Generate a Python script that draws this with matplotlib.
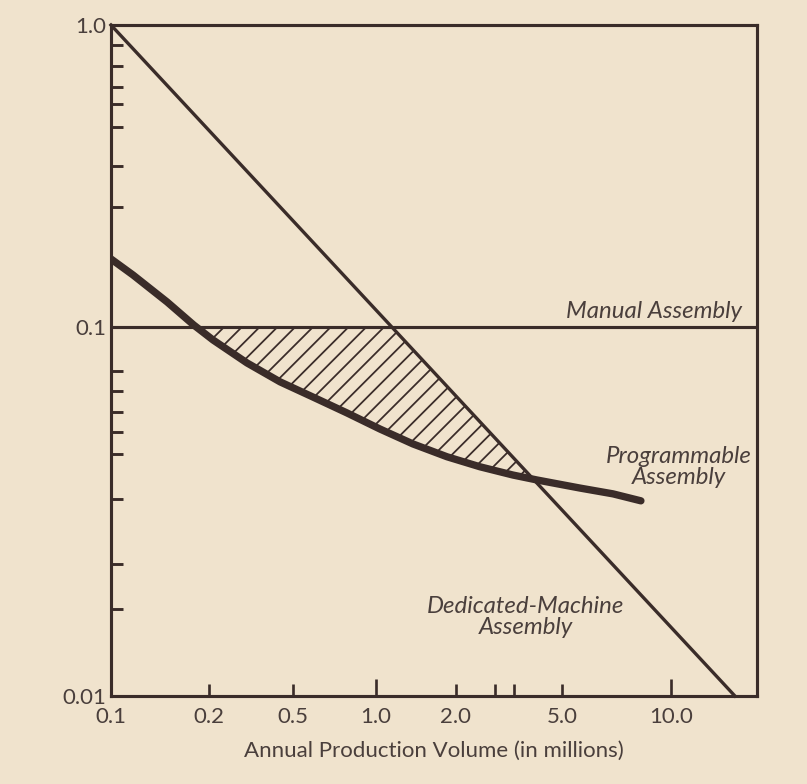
import numpy as np
import matplotlib
matplotlib.use("Agg")
import matplotlib.pyplot as plt
from matplotlib.patches import Polygon

# --- values ---
VOLUME_TICKS = [0.1, 0.2, 0.5, 1.0, 2.0, 5.0, 10.0]
VOLUME_TICK_LABELS = ["0.1", "0.2", "0.5", "1.0", "2.0", "5.0", "10.0"]
VOLUME_LONG_TICKS = ["1.0", "10.0"]
VOLUME_EXTRA_TICKS = [2.80, 3.30]

COST_TICKS = [0.01, 0.1, 1.0]
COST_TICK_LABELS = ["0.01", "0.1", "1.0"]
COST_MINOR_TICKS = [0.0172, 0.0228, 0.0342, 0.0453, 0.0519, 0.0589, 0.0671, 0.0760,
                    0.2496, 0.341, 0.459, 0.547, 0.623, 0.732, 0.859]

MANUAL_COST = 0.1

PROG_VOLUME = [0.1, 0.117, 0.149, 0.180, 0.210, 0.304, 0.436, 0.592, 0.787,
               1.039, 1.383, 1.857, 2.468, 3.28, 4.03, 5.61, 6.92, 8.26]
PROG_COST = [0.168, 0.1486, 0.121, 0.1015, 0.0922, 0.0799, 0.0710, 0.0646, 0.0585,
             0.0529, 0.0482, 0.0445, 0.0418, 0.0397, 0.0385, 0.0366, 0.0353, 0.0338]

DEDICATED_VOLUME = [0.1, 16.5]
DEDICATED_COST = [1.0, 0.01]

# the printed axes are only roughly logarithmic: where each mark sits along the axis
X_SCALE_VALUES = [0.1, 0.2, 0.5, 1.0, 2.0, 5.0, 10.0, 19.6]
X_SCALE_FRAC = [0.0, 0.1511, 0.2813, 0.4096, 0.5334, 0.6981, 0.8669, 1.0]
Y_SCALE_VALUES = [0.01, 0.1, 1.0]
Y_SCALE_FRAC = [0.0, 0.55, 1.0]

INK = "#3a2c29"
TEXT = "#4a3f3c"
PAPER = "#f0e3cd"


def printed_scale(values, fracs):
    logs = np.log10(values)

    def forward(v):
        v = np.clip(np.asarray(v, dtype=float), 1e-12, None)
        return np.interp(np.log10(v), logs, fracs)

    def inverse(f):
        return 10 ** np.interp(np.asarray(f, dtype=float), fracs, logs)

    return forward, inverse


plt.rcParams["font.family"] = ["Lato", "DejaVu Sans"]
plt.rcParams["hatch.linewidth"] = 0.8
plt.rcParams["hatch.color"] = INK

fig = plt.figure(figsize=(807 / 160, 784 / 160), dpi=160, facecolor=PAPER)
ax = fig.add_axes([0.1375, 0.1122, 0.8005, 0.8559], facecolor=PAPER)

ax.set_xscale("function", functions=printed_scale(X_SCALE_VALUES, X_SCALE_FRAC))
ax.set_yscale("function", functions=printed_scale(Y_SCALE_VALUES, Y_SCALE_FRAC))

# manual assembly: flat cost
ax.axhline(MANUAL_COST, color=INK, lw=1.4, zorder=3)

# dedicated machine assembly
ax.plot(DEDICATED_VOLUME, DEDICATED_COST, color=INK, lw=1.5, clip_on=False, zorder=3)

# programmable assembly
ax.plot(PROG_VOLUME, PROG_COST, color=INK, lw=3.3, solid_capstyle="round",
        solid_joinstyle="round", zorder=4)

# hatched region: programmable beats both others
prog_v = np.array(PROG_VOLUME)
prog_c = np.array(PROG_COST)
hatch = ax.fill_between(prog_v, prog_c, MANUAL_COST, where=prog_c <= MANUAL_COST,
                        interpolate=True, facecolor="none", edgecolor=INK,
                        linewidth=0, hatch="///", zorder=2)
clip = Polygon([(DEDICATED_VOLUME[0], DEDICATED_COST[0]),
                (DEDICATED_VOLUME[1], DEDICATED_COST[1]),
                (DEDICATED_VOLUME[0], DEDICATED_COST[1])],
               closed=True, transform=ax.transData)
hatch.set_clip_path(clip)

ax.set_xlim(X_SCALE_VALUES[0], X_SCALE_VALUES[-1])
ax.set_ylim(Y_SCALE_VALUES[0], Y_SCALE_VALUES[-1])

ax.set_xticks(VOLUME_TICKS)
ax.set_xticklabels(VOLUME_TICK_LABELS)
ax.set_xticks(VOLUME_EXTRA_TICKS, minor=True)
ax.set_yticks(COST_TICKS)
ax.set_yticklabels(COST_TICK_LABELS)
ax.set_yticks(COST_MINOR_TICKS, minor=True)

ax.tick_params(axis="x", which="both", direction="in", length=5.5, width=1.2,
               color=INK, labelsize=10, labelcolor=TEXT, pad=5)
ax.tick_params(axis="y", which="major", length=0, labelsize=10, labelcolor=TEXT, pad=2)
ax.tick_params(axis="y", which="minor", direction="in", length=5.5, width=1.3, color=INK)

# the whole-decade marks are drawn a little longer
for tick, label in zip(ax.xaxis.get_major_ticks(), VOLUME_TICK_LABELS):
    if label in VOLUME_LONG_TICKS:
        tick.tick1line.set_markersize(7.5)

for side in ["left", "right", "top", "bottom"]:
    ax.spines[side].set_color(INK)
    ax.spines[side].set_linewidth(1.4)

ax.set_xlabel("Annual Production Volume (in millions)", fontsize=10, color=TEXT, labelpad=6)

note = dict(transform=ax.transAxes, fontsize=10.8, style="italic", color=TEXT)
ax.text(0.977, 0.563, "Manual Assembly", ha="right", va="baseline", **note)
ax.text(0.879, 0.341, "Programmable\nAssembly", ha="center", va="center",
        linespacing=1.0, **note)
ax.text(0.6416, 0.118, "Dedicated-Machine\nAssembly", ha="center", va="center",
        linespacing=1.0, **note)

fig.savefig("out.png", dpi=160, facecolor=PAPER)
